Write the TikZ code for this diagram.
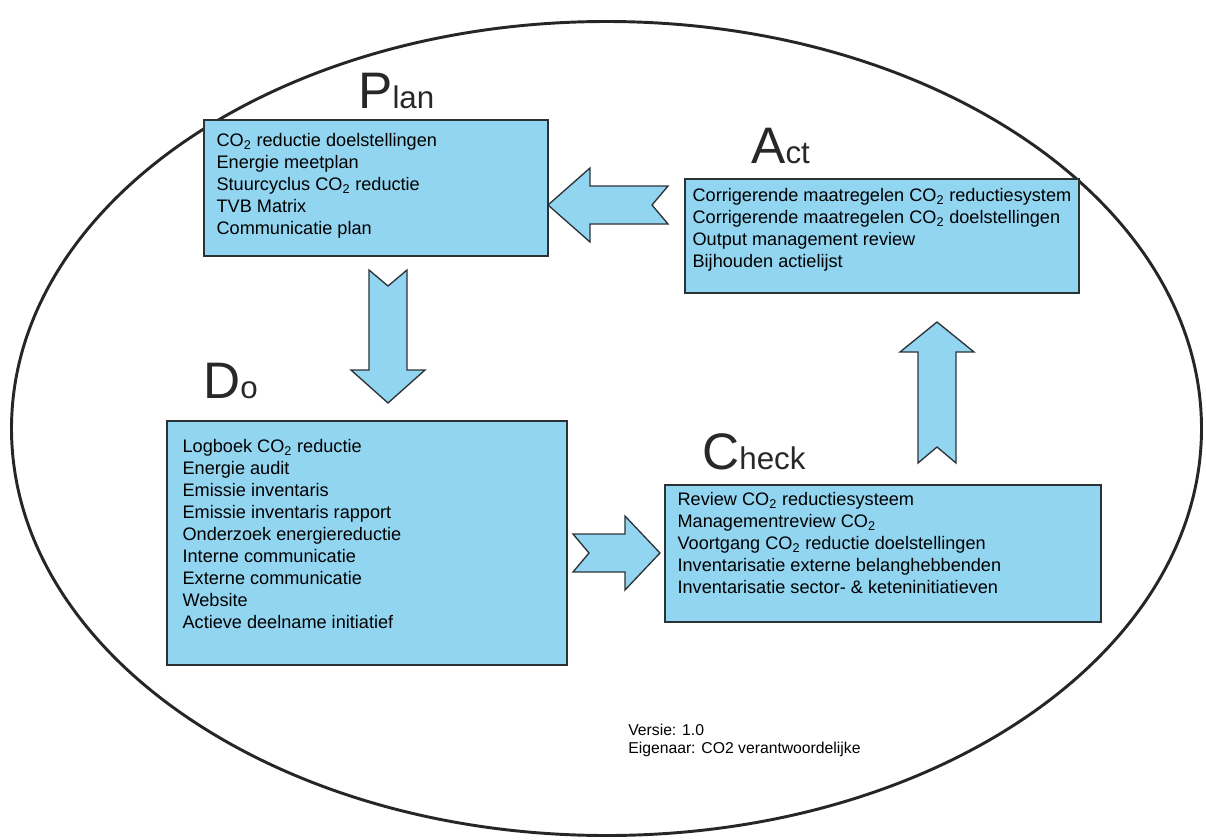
\documentclass[tikz,border=0pt]{standalone}
\usepackage{fontspec}
\setmainfont{Liberation Sans}
\usetikzlibrary{positioning}

\definecolor{vakblauw}{RGB}{146,213,240}
\definecolor{randgrijs}{RGB}{45,50,55}
\definecolor{titelgrijs}{RGB}{40,40,40}

\newcommand{\cotwee}{CO\textsubscript{2}}
\newcommand{\titelletters}[2]{{\fontsize{38.5}{38.5}\selectfont #1}{\fontsize{23.5}{23.5}\selectfont #2}}
% tip, direction, length, head length
\newcommand{\blokpijl}[4]{%
  \draw[pijl, shift = {(#1)}, rotate = #2]
    (0, 0) -- (-#4, 37) -- (-#4, 19) -- (-#3, 19) -- (-#3 + 16, 0)
    -- (-#3, -19) -- (-#4, -19) -- (-#4, -37) -- cycle;
}

\begin{document}
\begin{tikzpicture}[x = 0.75pt, y = -0.75pt,
    vak/.style      = {shape = rectangle, draw = randgrijs, fill = vakblauw, line width = 1pt, inner sep = 0pt},
    vaktekst/.style = {align = left, inner sep = 0pt, text = black, font = \fontsize{13.6}{16.5}\selectfont},
    titel/.style    = {anchor = base west, inner sep = 0pt, text = titelgrijs},
    pijl/.style     = {draw = randgrijs, fill = vakblauw, line width = 1pt},
  ]
  \useasboundingbox (0, 0) rectangle (1206, 839);

  \draw[line width = 2.2pt, color = black!85] (606.5, 428.5) ellipse [x radius = 446.25pt, y radius = 305.25pt];

  % ------------------------------------------------------------------------
  % Plan
  \node[titel] at (358, 108) (plantitel) {\titelletters{P}{lan}};
  \node[vak, minimum width = 258pt, minimum height = 102pt] at (376, 188) (planbox) {};
  \node[vaktekst, below right = 10.3pt and 9.75pt of planbox.north west] (plantekst) {%
    \cotwee{} reductie doelstellingen\\
    Energie meetplan\\
    Stuurcyclus \cotwee{} reductie\\
    TVB Matrix\\
    Communicatie plan};

  % ------------------------------------------------------------------------
  % Act
  \node[titel] at (751, 163) (acttitel) {\titelletters{A}{ct}};
  \node[vak, minimum width = 295.5pt, minimum height = 85.5pt] at (882, 236) (actbox) {};
  \node[vaktekst, below right = 7.5pt and 6pt of actbox.north west] (acttekst) {%
    Corrigerende maatregelen \cotwee{} reductiesystem\\
    Corrigerende maatregelen \cotwee{} doelstellingen\\
    Output management review\\
    Bijhouden actielijst};

  % ------------------------------------------------------------------------
  % Do
  \node[titel] at (203, 398) (dotitel) {\titelletters{D}{o}};
  \node[vak, minimum width = 300pt, minimum height = 183pt] at (367, 543) (dobox) {};
  \node[vaktekst, below right = 14.25pt and 12pt of dobox.north west] (dotekst) {%
    Logboek \cotwee{} reductie\\
    Energie audit\\
    Emissie inventaris\\
    Emissie inventaris rapport\\
    Onderzoek energiereductie\\
    Interne communicatie\\
    Externe communicatie\\
    Website\\
    Actieve deelname initiatief};

  % ------------------------------------------------------------------------
  % Check
  \node[titel] at (702, 469) (checktitel) {\titelletters{C}{heck}};
  \node[vak, minimum width = 327pt, minimum height = 102.75pt] at (883, 553.5) (checkbox) {};
  \node[vaktekst, below right = 6pt and 9.75pt of checkbox.north west] (checktekst) {%
    Review \cotwee{} reductiesysteem\\
    Managementreview \cotwee\\
    Voortgang \cotwee{} reductie doelstellingen\\
    Inventarisatie externe belanghebbenden\\
    Inventarisatie sector- \& keteninitiatieven};

  % ------------------------------------------------------------------------
  % Pijlen
  \coordinate (actnaarplan) at (548, 205);
  \coordinate (plannaardo) at (388, 403);
  \coordinate (donaarcheck) at (660, 553);
  \coordinate (checknaaract) at (937, 322);

  \blokpijl{actnaarplan}{180}{120}{42}
  \blokpijl{plannaardo}{-90}{133}{33}
  \blokpijl{donaarcheck}{0}{87}{35}
  \blokpijl{checknaaract}{90}{141}{30}

  \node[anchor = north west, inner sep = 0pt, align = left, font = \fontsize{11.8}{13.5}\selectfont]
    at (628, 724) (versie) {Versie: 1.0\\ Eigenaar: CO2 verantwoordelijke};
\end{tikzpicture}
\end{document}
